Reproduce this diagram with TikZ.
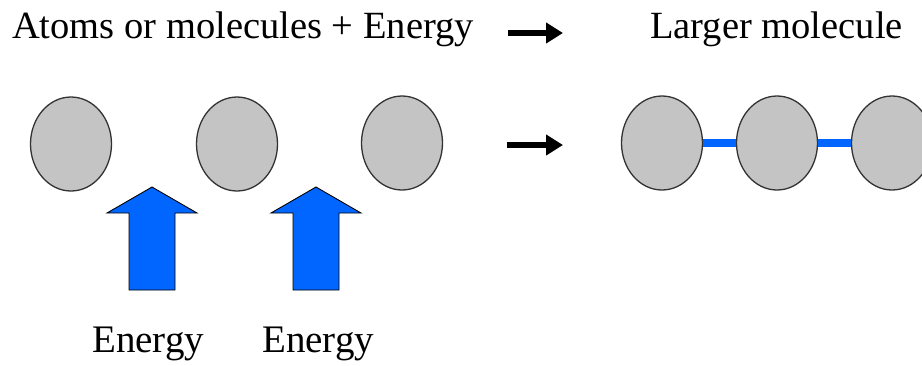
\documentclass[tikz,border=0pt]{standalone}
\usepackage{fontspec}
\setmainfont{Liberation Serif}
\usetikzlibrary{positioning,arrows.meta,shapes.geometric}

\begin{document}
\begin{tikzpicture}[
	x=1pt, y=-1pt,
	font=\fontsize{38.5}{40}\selectfont,
	txt/.style={
		anchor=base west,
		inner sep=0pt,
	},
	atom/.style={
		draw=black!80,
		line width=1.3pt,
		ellipse,
		fill=black!23,
		minimum width=81pt,
		minimum height=94pt,
		inner sep=0pt,
	},
	bond/.style={
		draw={rgb,255:red,0;green,102;blue,255},
		line width=8pt,
	},
	energy/.style={
		draw=black,
		line width=0.9pt,
		fill={rgb,255:red,0;green,102;blue,255},
	},
	yields/.style={-{Triangle[length=17pt,width=20pt]}, line width=5.5pt},
]

\useasboundingbox (0,0) rectangle (922,365);

% Texty rovnice
\node[txt] (reactants) at (12,38) {Atoms or molecules + Energy};
\node[txt] (product) at (650,38) {Larger molecule};
\node[txt, font=\fontsize{39}{40}\selectfont] (en1) at (92,352) {Energy};
\node[txt, font=\fontsize{39}{40}\selectfont] (en2) at (262,352) {Energy};

% Volné atomy vlevo
\node[atom] (a1) at (71,144) {};
\node[atom] (a2) at (237,144) {};
\node[atom] (a3) at (402,143) {};

% Výsledná molekula vpravo
\node[atom] (m1) at (662,143) {};
\node[atom] (m2) at (777,143) {};
\node[atom] (m3) at (892,143) {};
\draw[bond] (m1) -- (m2);
\draw[bond] (m2) -- (m3);

% Šipky dodávané energie
\foreach \cx in {152,316} {
	\draw[energy] (\cx,187) -- (\cx+45,213) -- (\cx+23,213) -- (\cx+23,290)
		-- (\cx-23,290) -- (\cx-23,213) -- (\cx-45,213) -- cycle;
}

% Šipky reakce
\coordinate (topL) at (508,33);
\coordinate (topR) at (563,33);
\coordinate (midL) at (507,145);
\coordinate (midR) at (563,145);
\draw[yields] (topL) -- (topR);
\draw[yields] (midL) -- (midR);

\end{tikzpicture}
\end{document}
